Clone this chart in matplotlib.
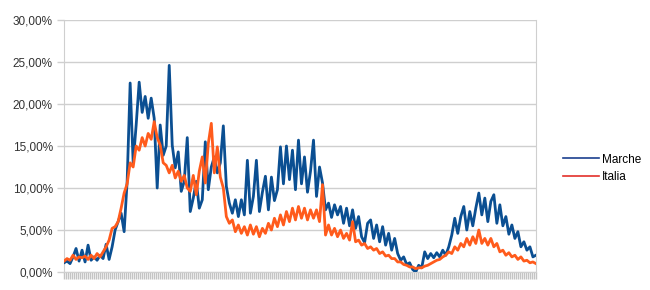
import numpy as np
import matplotlib.pyplot as plt
from matplotlib.lines import Line2D
from matplotlib.ticker import FuncFormatter

plt.rcParams['font.family'] = ['Liberation Sans', 'DejaVu Sans']

# tasso di positività (%) - Marche vs Italia
marche = [1.1, 1.3, 1.0, 1.8, 2.8, 1.3, 2.6, 1.2, 3.2, 1.4,
          1.8, 1.4, 2.0, 1.6, 3.3, 1.5, 3.0, 5.0, 6.0, 7.0,
          4.8, 10.8, 22.5, 13.0, 17.5, 22.6, 19.0, 20.9, 18.3, 20.7,
          18.3, 10.0, 17.5, 13.9, 15.0, 24.6, 15.1, 12.4, 14.3, 9.6,
          10.8, 16.0, 7.2, 8.8, 10.8, 7.6, 8.6, 15.5, 9.8, 12.5,
          13.7, 11.8, 13.0, 17.4, 10.2, 8.2, 7.0, 8.6, 6.6, 8.6,
          6.8, 13.3, 7.0, 9.0, 13.3, 7.2, 9.5, 11.4, 7.4, 11.3,
          8.5, 9.8, 14.9, 10.5, 15.0, 11.0, 14.5, 9.8, 15.7, 10.5,
          13.7, 9.5, 12.0, 15.7, 9.0, 12.5, 10.6, 7.4, 8.2, 6.5,
          8.0, 6.8, 7.8, 5.8, 7.6, 5.5, 7.4, 5.2, 6.6, 4.2,
          3.5, 5.8, 6.2, 4.0, 5.6, 3.6, 5.4, 3.2, 4.6, 2.6,
          4.0, 2.2, 1.4, 1.8, 0.9, 1.1, 0.3, 0.0, 0.8, 0.5,
          2.4, 1.6, 2.2, 1.7, 2.3, 1.8, 2.6, 2.0, 3.0, 4.4,
          6.4, 4.6, 6.6, 7.8, 5.0, 7.2, 5.5, 7.6, 9.4, 6.8,
          8.8, 6.0, 8.4, 9.2, 5.8, 8.0, 5.5, 6.6, 4.5, 5.6,
          4.0, 4.8, 3.0, 3.6, 2.6, 3.0, 1.8, 2.0]

italia = [1.3, 1.6, 1.4, 2.0, 1.5, 1.8, 1.7, 1.9, 1.5, 2.0,
          1.6, 2.2, 1.8, 2.4, 3.0, 3.8, 5.2, 5.4, 6.0, 7.6,
          9.4, 10.5, 13.0, 12.5, 15.0, 14.5, 16.0, 15.0, 16.5, 15.8,
          17.9, 16.0, 15.1, 13.0, 12.7, 11.8, 12.7, 11.2, 12.0, 10.8,
          11.5, 10.0, 9.6, 11.5, 9.2, 12.0, 13.7, 10.6, 15.3, 17.7,
          11.8, 14.9, 11.3, 10.0, 6.6, 5.8, 6.2, 4.8, 5.6, 4.6,
          5.4, 4.4, 5.6, 4.5, 5.4, 4.2, 5.2, 4.6, 5.8, 5.0,
          6.4, 5.4, 6.8, 5.6, 7.2, 6.0, 7.6, 6.2, 7.8, 6.4,
          7.6, 6.2, 7.4, 6.4, 7.4, 6.0, 10.4, 4.4, 5.6, 4.4,
          5.2, 4.2, 5.0, 4.0, 4.6, 3.8, 6.0, 3.6, 3.8, 3.2,
          3.4, 2.8, 3.0, 2.6, 2.8, 2.2, 2.4, 1.9, 2.0, 1.6,
          1.6, 1.2, 1.2, 0.9, 0.8, 0.6, 0.6, 0.4, 0.5, 0.5,
          0.7, 0.8, 1.0, 1.2, 1.4, 1.5, 1.8, 2.0, 2.4, 2.2,
          3.0, 2.6, 3.4, 3.0, 4.0, 3.2, 4.2, 3.4, 5.0, 3.4,
          4.0, 3.2, 4.0, 3.0, 3.4, 2.4, 2.6, 2.0, 2.3, 1.8,
          2.0, 1.5, 1.8, 1.3, 1.4, 1.1, 1.2, 1.0]

blue = '#0b4f92'
orange = '#ff5b1c'

fig = plt.figure(figsize=(6.5, 2.9), dpi=100)
ax = fig.add_axes([0.0985, 0.062, 0.726, 0.869])

x = np.arange(len(marche))
ax.plot(x, marche, color=blue, lw=2.0, zorder=3, solid_joinstyle='round')
ax.plot(x, italia, color=orange, lw=2.0, zorder=4, solid_joinstyle='round')

ax.set_xlim(0, len(marche) - 1)
ax.set_ylim(0, 30)
ax.set_yticks(np.arange(0, 31, 5))
ax.yaxis.set_major_formatter(FuncFormatter(lambda v, p: f'{v:.2f}%'.replace('.', ',')))
ax.grid(axis='y', color='#cfcfcf', lw=1)
ax.set_axisbelow(True)

# fitta serie di tacche sull'asse x (una per giorno)
ax.set_xticks(np.linspace(0, len(marche) - 1, 237))
ax.set_xticklabels([])
ax.tick_params(axis='x', length=5, width=1.0, color='#c4c4c4')
ax.tick_params(axis='y', length=5, width=1, color='#cfcfcf', labelsize=8.5,
               labelcolor='#333333', pad=3)

ax.spines['top'].set_visible(False)
for s in ['left', 'right', 'bottom']:
    ax.spines[s].set_color('#cfcfcf')

handles = [Line2D([], [], color='#1b3f8f', lw=1.2),
           Line2D([], [], color='#e3302a', lw=1.2)]
fig.legend(handles, ['Marche', 'Italia'], loc='center left',
           bbox_to_anchor=(0.85, 0.42), frameon=False, fontsize=8.5,
           handlelength=3.0, handletextpad=0.3, labelspacing=0.45)

plt.savefig('out.png', dpi=100)
